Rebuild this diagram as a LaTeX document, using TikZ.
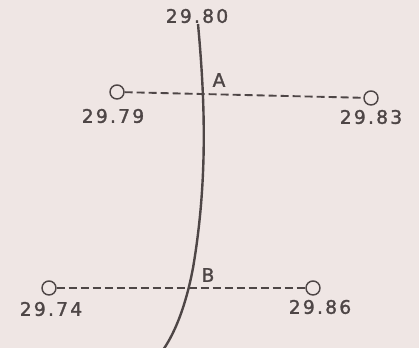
\documentclass[tikz,border=0pt]{standalone}
\usepackage{fontspec}
\newfontfamily\mapfont[LetterSpace=12,FakeBold=1.6]{DejaVu Sans}
\definecolor{paper}{RGB}{239,230,228}
\definecolor{ink}{RGB}{78,70,70}
\tikzset{
  station/.style={circle,draw=ink,line width=1.1pt,minimum size=10.5pt,inner sep=0pt},
  reading/.style={text=ink,inner sep=0pt},
  trace/.style={draw=ink,line width=1.4pt,dash pattern=on 6pt off 3pt},
  isobar/.style={draw=ink,line width=1.8pt}
}
\begin{document}
\begin{tikzpicture}[x=0.75pt,y=-0.75pt,line cap=butt,line join=round,font=\mapfont\fontsize{14}{16}\selectfont]
\fill[paper] (0,0) rectangle (419,348);
\useasboundingbox (0,0) rectangle (419,348);
% stations
\foreach \x/\y/\nm in {117/92/w1,371/98/e1,49/288/w2,313/288/e2}
  \node[station] (\nm) at (\x,\y) {};
% pressure readings
\foreach \x/\y/\nm/\lbl in {197/16/t0/29.80,113/116/t1/29.79,371/117/t2/29.83,51/309/t3/29.74,320/307/t4/29.86}
  \node[reading] (\nm) at (\x,\y) {\lbl};
\node[reading] (A) at (219,80) {A};
\node[reading] (B) at (208,275) {B};
% lines between stations
\draw[trace] (w1) -- (e1);
\draw[trace] (w2) -- (e2);
% the isobar
\draw[isobar] (198,24) .. controls (205,100) and (208,180) .. (193,268) .. controls (187,300) and (177,330) .. (163,350);
\end{tikzpicture}
\end{document}
